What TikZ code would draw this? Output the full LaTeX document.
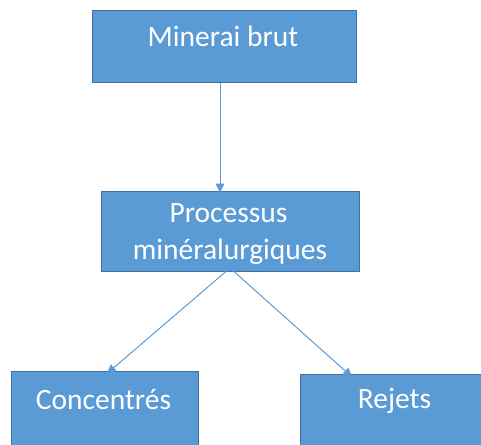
\documentclass[tikz,border=0pt]{standalone}
\usepackage{fontspec}
\setmainfont{Carlito}
\usetikzlibrary{arrows.meta}
\definecolor{boxfill}{HTML}{5B9BD5}
\definecolor{boxline}{HTML}{41719C}
\tikzset{
  box/.style={draw=boxline, line width=1pt, fill=boxfill, rectangle, inner sep=0pt},
  lbl/.style={text=white, font=\fontsize{29.5}{35}\selectfont, anchor=base, inner sep=0pt},
  flow/.style={draw=boxfill, line width=1pt, -{Triangle[length=9pt,width=9pt]}}
}
\begin{document}
\begin{tikzpicture}[x=1pt,y=-1pt]
  \useasboundingbox (0,0) rectangle (481,444);
  \clip (0,0) rectangle (481,444);
  % boxes
  \node[box, minimum width=264pt, minimum height=72pt] (brut) at (224,46.5) {};
  \node[box, minimum width=258pt, minimum height=80pt] (proc) at (230,231.5) {};
  \node[box, minimum width=187pt, minimum height=90pt] (conc) at (104.5,416.5) {};
  \node[box, minimum width=190pt, minimum height=90pt] (rej) at (395,419) {};
  % labels
  \node[lbl] (tbrut) at (223,46) {Minerai brut};
  \node[lbl] (tproc1) at (228.5,222.5) {Processus};
  \node[lbl] (tproc2) at (230,259) {minéralurgiques};
  \node[lbl] (tconc) at (103.5,409) {Concentrés};
  \node[lbl] (trej) at (394.5,408) {Rejets};
  % connectors
  \coordinate (split) at ([yshift=4pt]proc.south);
  \draw[flow] ([xshift=-4pt]brut.south) -- ([xshift=-10pt,yshift=-1.5pt]proc.north);
  \draw[flow] (split) -- ([xshift=2.5pt,yshift=-2.5pt]conc.north);
  \draw[flow] (split) -- ([xshift=-43pt,yshift=-3.5pt]rej.north);
\end{tikzpicture}
\end{document}
